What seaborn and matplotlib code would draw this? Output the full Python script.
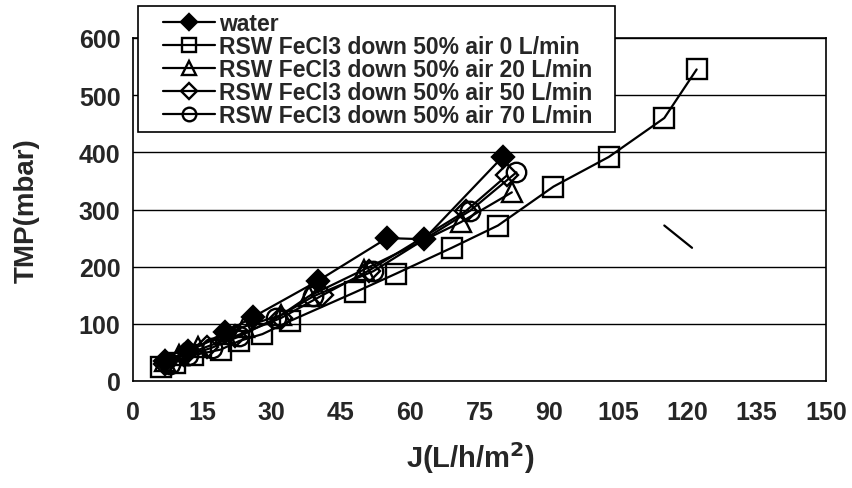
import matplotlib
matplotlib.use("Agg")
import matplotlib.pyplot as plt
from matplotlib.lines import Line2D
from matplotlib.legend_handler import HandlerLine2D
import seaborn as sns
import pandas as pd

# Flux (J) and transmembrane pressure (TMP) for each run
water_j = [7, 12, 20, 26, 40, 55, 63, 80]
water_tmp = [35, 52, 85, 112, 175, 250, 248, 392]

air0_j = [6, 9, 13, 19, 23, 28, 34, 48, 57, 69, 79, 91, 103, 115, 122]
air0_tmp = [25, 32, 45, 55, 70, 82, 105, 155, 188, 233, 272, 340, 392, 460, 545]

air20_j = [7, 10, 14, 20, 24, 32, 38, 50, 71, 82]
air20_tmp = [35, 45, 60, 82, 95, 115, 148, 195, 278, 330]

air50_j = [7, 11, 16, 22, 32, 41, 51, 72, 81]
air50_tmp = [30, 45, 60, 78, 110, 150, 193, 297, 360]

air70_j = [8, 12, 17, 23, 31, 39, 52, 73, 83]
air70_tmp = [30, 45, 58, 78, 110, 148, 192, 298, 365]

labels = [
    "water",
    "RSW FeCl3 down 50% air 0 L/min",
    "RSW FeCl3 down 50% air 20 L/min",
    "RSW FeCl3 down 50% air 50 L/min",
    "RSW FeCl3 down 50% air 70 L/min",
]
x_ticks = [0, 15, 30, 45, 60, 75, 90, 105, 120, 135, 150]
y_ticks = [0, 100, 200, 300, 400, 500, 600]

# short stray pen stroke on the chart
stroke_j = [115, 121]
stroke_tmp = [272, 233]

series = [
    (labels[0], water_j, water_tmp, "D", "black", 11),
    (labels[1], air0_j, air0_tmp, "s", "none", 14),
    (labels[2], air20_j, air20_tmp, "^", "none", 14),
    (labels[3], air50_j, air50_tmp, "D", "none", 11),
    (labels[4], air70_j, air70_tmp, "o", "none", 14),
]

sns.set_style("white")
plt.rcParams["font.family"] = ["Liberation Sans", "DejaVu Sans"]

W, H = 853, 489
fig = plt.figure(figsize=(W / 100, H / 100), dpi=100)
ax = fig.add_axes([133 / W, 1 - 382 / H, (826 - 133) / W, (382 - 39) / H])

for name, xs, ys, mk, fc, ms in series:
    df = pd.DataFrame({"J": xs, "TMP": ys})
    sns.lineplot(data=df, x="J", y="TMP", ax=ax, color="black", lw=1.6,
                 marker=mk, markersize=ms, markerfacecolor=fc,
                 markeredgecolor="black", markeredgewidth=1.7,
                 estimator=None, sort=False, label=name)

sns.lineplot(x=stroke_j, y=stroke_tmp, ax=ax, color="black", lw=1.6,
             estimator=None, sort=False, legend=False)

ax.set_xlim(0, 150)
ax.set_ylim(0, 600)
ax.set_xticks(x_ticks)
ax.set_yticks(y_ticks)
ax.yaxis.grid(True, color="black", lw=1.0)
ax.xaxis.grid(False)
ax.set_axisbelow(True)
for s in ax.spines.values():
    s.set_visible(True)
    s.set_color("black")
    s.set_linewidth(1.2)

ax.tick_params(axis="x", direction="out", length=6, width=1.2, color="black",
               labelsize=18, pad=8)
ax.tick_params(axis="y", direction="inout", length=10, width=1.2, color="black",
               labelsize=18, pad=4)
for t in ax.get_xticklabels() + ax.get_yticklabels():
    t.set_fontweight("bold")

ax.set_xlabel(r"J(L/h/m$^\mathbf{2}$)", fontsize=21, fontweight="bold", labelpad=11)
ax.xaxis.set_label_coords(0.487, -0.17)
ax.set_ylabel("TMP(mbar)", fontsize=20, fontweight="bold", labelpad=28)

# legend box spanning a fixed width, handles inset from the left edge
leg_left, leg_top, leg_w = 138 / W, 1 - 7 / H, (615 - 138) / W
leg = ax.legend(loc="upper left", bbox_to_anchor=(leg_left, leg_top - 0.3, leg_w, 0.3),
                bbox_transform=fig.transFigure, mode="expand", borderaxespad=0,
                frameon=True, fancybox=False, edgecolor="black", framealpha=1,
                prop={"weight": "bold", "size": 16.5},
                handlelength=3.1, handletextpad=0.2, labelspacing=0.0,
                borderpad=0.25, markerscale=0.7,
                handler_map={Line2D: HandlerLine2D(xpad=0.85)})
leg.get_frame().set_linewidth(1.2)

fig.savefig("out.png", dpi=100)
